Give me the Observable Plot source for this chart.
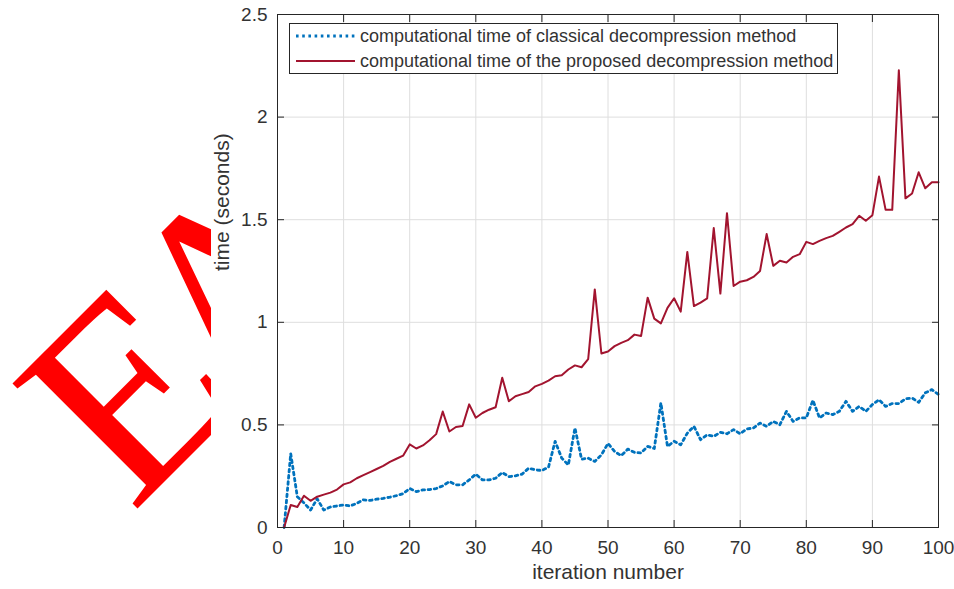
<!DOCTYPE html>
<html>
<head>
<meta charset="utf-8">
<script src="https://cdn.jsdelivr.net/npm/d3@7"></script>
<script src="https://cdn.jsdelivr.net/npm/@observablehq/plot@0.6"></script>
<style>
  html, body { margin: 0; padding: 0; background: #fff; }
  #chart { width: 954px; height: 589px; }
</style>
</head>
<body>
<div id="chart"></div>
<script>
// ---- data ----
const classical = [
  0.00, 0.36, 0.15, 0.12, 0.085, 0.14, 0.085, 0.10, 0.105, 0.11,
  0.105, 0.118, 0.135, 0.132, 0.138, 0.142, 0.148, 0.155, 0.165, 0.19,
  0.175, 0.183, 0.185, 0.19, 0.203, 0.224, 0.208, 0.208, 0.232, 0.26,
  0.232, 0.232, 0.24, 0.268, 0.248, 0.252, 0.26, 0.289, 0.281, 0.278,
  0.294, 0.42, 0.338, 0.305, 0.485, 0.333, 0.338, 0.322, 0.354, 0.41,
  0.37, 0.35, 0.382, 0.366, 0.363, 0.395, 0.385, 0.607, 0.395, 0.42,
  0.403, 0.46, 0.493, 0.428, 0.452, 0.444, 0.464, 0.457, 0.477, 0.457,
  0.48, 0.485, 0.509, 0.493, 0.517, 0.501, 0.566, 0.517, 0.534, 0.534,
  0.62, 0.534, 0.558, 0.55, 0.566, 0.615, 0.566, 0.59, 0.566, 0.599,
  0.623, 0.59, 0.604, 0.604, 0.627, 0.631, 0.61, 0.656, 0.672, 0.648
];
const proposed = [
  0.00, 0.11, 0.10, 0.155, 0.13, 0.15, 0.16, 0.17, 0.185, 0.21,
  0.22, 0.24, 0.255, 0.27, 0.285, 0.30, 0.32, 0.335, 0.35, 0.405,
  0.385, 0.40, 0.425, 0.455, 0.565, 0.468, 0.49, 0.495, 0.60, 0.535,
  0.558, 0.574, 0.586, 0.73, 0.615, 0.64, 0.65, 0.66, 0.688, 0.70,
  0.716, 0.737, 0.742, 0.77, 0.79, 0.781, 0.82, 1.16, 0.848, 0.858,
  0.884, 0.90, 0.913, 0.94, 0.933, 1.12, 1.018, 0.995, 1.07, 1.117,
  1.052, 1.343, 1.079, 1.096, 1.117, 1.459, 1.14, 1.532, 1.177, 1.198,
  1.205, 1.221, 1.25, 1.43, 1.275, 1.30, 1.291, 1.319, 1.332, 1.392,
  1.381, 1.397, 1.41, 1.421, 1.441, 1.462, 1.478, 1.519, 1.495, 1.522,
  1.71, 1.548, 1.548, 2.228, 1.604, 1.628, 1.731, 1.653, 1.682, 1.682
];
const iterations = d3.range(1, 101);
const xTicks = [0, 10, 20, 30, 40, 50, 60, 70, 80, 90, 100];
const yTicks = [0, 0.5, 1, 1.5, 2, 2.5];
const seriesNames = [
  "computational time of classical decompression method",
  "computational time of the proposed decompression method"
];
const xLabel = "iteration number";
const yLabel = "time (seconds)";
const watermarkLetters = ["E", "A"];

const blue = "#0072BD";
const red = "#A2142F";
const ink = "#262626";

const classicalData = iterations.map((it, i) => ({it, t: classical[i]}));
const proposedData = iterations.map((it, i) => ({it, t: proposed[i]}));

const plot = Plot.plot({
  width: 954,
  height: 589,
  marginLeft: 277,
  marginRight: 16,
  marginTop: 14,
  marginBottom: 62,
  style: {fontFamily: "'Liberation Sans', Arial, sans-serif", fontSize: "19px", color: "#333", background: "white"},
  x: {domain: [0, 100]},
  y: {domain: [0, 2.5]},
  marks: [
    Plot.gridX(xTicks, {stroke: "#dedede", strokeOpacity: 1}),
    Plot.gridY(yTicks, {stroke: "#dedede", strokeOpacity: 1}),
    Plot.line(classicalData, {x: "it", y: "t", stroke: blue, strokeWidth: 2.8, strokeDasharray: "2.6,3.6"}),
    Plot.line(proposedData, {x: "it", y: "t", stroke: red, strokeWidth: 2}),
    Plot.frame({stroke: ink}),
    Plot.axisX(xTicks, {anchor: "bottom", tickSize: 0, tickPadding: 13, label: null}),
    Plot.axisX(xTicks, {anchor: "bottom", tickSize: -7, tickFormat: () => "", label: null, stroke: ink}),
    Plot.axisX(xTicks, {anchor: "top", tickSize: -7, tickFormat: () => "", label: null, stroke: ink}),
    Plot.axisY(yTicks, {anchor: "left", tickSize: 0, tickPadding: 10, tickFormat: d => String(d), label: null}),
    Plot.axisY(yTicks, {anchor: "left", tickSize: -7, tickFormat: () => "", label: null, stroke: ink}),
    Plot.axisY(yTicks, {anchor: "right", tickSize: -7, tickFormat: () => "", label: null, stroke: ink}),
    Plot.text([xLabel], {text: d => d, frameAnchor: "bottom", dy: 51, fontSize: 21}),
    Plot.text([yLabel], {text: d => d, frameAnchor: "left", dx: -55, rotate: -90, fontSize: 21})
  ]
});

document.getElementById("chart").appendChild(plot);

// ---- watermark (clipped at the left) and legend ----
const svg = d3.select(plot);
const defs = svg.insert("defs", ":first-child");
defs.append("clipPath").attr("id", "wmclip")
  .append("rect").attr("x", 0).attr("y", 0).attr("width", 211).attr("height", 589);
const wm = svg.append("g").attr("clip-path", "url(#wmclip)")
  .append("text")
  .attr("transform", "translate(132,514) rotate(-45)")
  .attr("text-anchor", "start")
  .attr("dominant-baseline", "alphabetic")
  .style("font-family", "'Liberation Serif', 'Times New Roman', serif")
  .style("font-size", "270px")
  .attr("fill", "#ff0000");
wm.append("tspan").text(watermarkLetters[0]);
wm.append("tspan").attr("dx", -28).text(watermarkLetters[1]);

const lg = svg.append("g");
lg.append("rect").attr("x", 289.5).attr("y", 23.5).attr("width", 548).attr("height", 50)
  .attr("fill", "white").attr("stroke", ink).attr("stroke-width", 1);
const rows = [
  {name: seriesNames[0], color: blue, dash: "2.6,3.6", w: 2.8, y: 36},
  {name: seriesNames[1], color: red, dash: null, w: 2, y: 61}
];
rows.forEach(r => {
  lg.append("line").attr("x1", 296).attr("x2", 355).attr("y1", r.y).attr("y2", r.y)
    .attr("stroke", r.color).attr("stroke-width", r.w)
    .attr("stroke-dasharray", r.dash);
  lg.append("text").attr("x", 360).attr("y", r.y + 1)
    .attr("text-anchor", "start")
    .attr("dominant-baseline", "middle")
    .style("font-family", "'Liberation Sans', Arial, sans-serif")
    .style("font-size", "18px").attr("fill", "#333")
    .text(r.name);
});
</script>
</body>
</html>
